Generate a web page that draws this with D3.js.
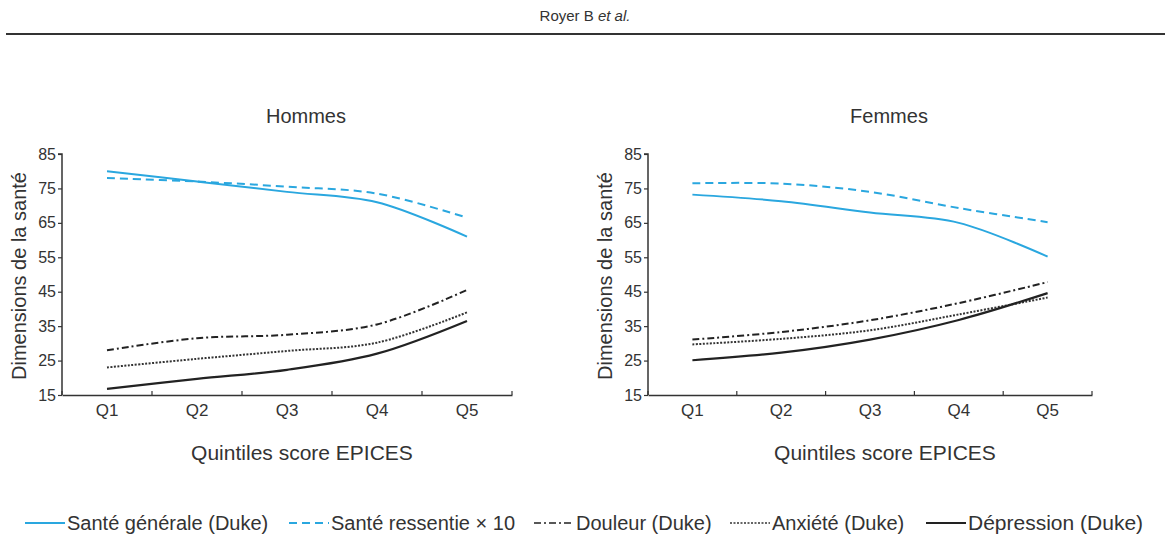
<!DOCTYPE html>
<html><head><meta charset="utf-8">
<script src="https://cdn.jsdelivr.net/npm/d3@7"></script>
<style>
body{margin:0;background:#fff;}
svg text{font-family:"Liberation Sans",Arial,sans-serif !important;fill:#333;}
</style></head>
<body>
<svg id="c" width="1169" height="538"></svg>
<script>
const categories = ["Q1","Q2","Q3","Q4","Q5"];
const yTicks = [15,25,35,45,55,65,75,85];
const seriesNames = ["Santé générale (Duke)","Santé ressentie × 10","Douleur (Duke)","Anxiété (Duke)","Dépression (Duke)"];
const panelTitles = ["Hommes","Femmes"];
// Hommes
const hommesGenerale = [80,77,74,71,61];
const hommesRessentie = [78,77,75.5,73.5,66.5];
const hommesDouleur = [28,31.5,32.5,35.5,45.5];
const hommesAnxiete = [23,25.5,27.8,30.2,39];
const hommesDepression = [16.8,19.7,22.3,27,36.5];
// Femmes
const femmesGenerale = [73.2,71.3,68,65,55.2];
const femmesRessentie = [76.5,76.4,74,69.3,65.2];
const femmesDouleur = [31.1,33.3,36.7,41.7,47.8];
const femmesAnxiete = [29.7,31.3,33.8,38.4,43.3];
const femmesDepression = [25.1,27.3,31.1,36.8,44.6];

const styles = [
  {color:"#2aa7df", dash:null, w:2},
  {color:"#2aa7df", dash:"8,5", w:2},
  {color:"#222", dash:"7,3,2,3", w:2},
  {color:"#333", dash:"2,1.5", w:2},
  {color:"#222", dash:null, w:2.2}
];

const svg = d3.select("#c");

// header
const hdr = svg.append("text").attr("x",585).attr("y",21).attr("text-anchor","middle").style("font-size","15px");
hdr.append("tspan").text("Royer B ");
hdr.append("tspan").style("font-style","italic").text("et al.");
svg.append("line").attr("x1",6).attr("x2",1165).attr("y1",34).attr("y2",34).attr("stroke","#333").attr("stroke-width",2);

const panels = [
  {title:panelTitles[0], x0:62, x1:512, data:[hommesGenerale,hommesRessentie,hommesDouleur,hommesAnxiete,hommesDepression]},
  {title:panelTitles[1], x0:648, x1:1092, data:[femmesGenerale,femmesRessentie,femmesDouleur,femmesAnxiete,femmesDepression]}
];

const yTop = 154, yBot = 395;

panels.forEach(p => {
  const g = svg.append("g");
  const x = d3.scaleBand().domain(categories).range([p.x0,p.x1]);
  const y = d3.scaleLinear().domain([15,85]).range([yBot,yTop]);
  const cx = d => x(d)+x.bandwidth()/2;

  // y axis
  const ya = g.append("g").attr("transform",`translate(${p.x0},0)`)
    .call(d3.axisLeft(y).tickValues(yTicks).tickSize(4).tickPadding(2));
  ya.select(".domain").attr("stroke","#333").attr("stroke-width",1.5).attr("d",`M-4,${yTop}H0V${yBot}`);
  ya.selectAll(".tick line").attr("stroke","#333").attr("stroke-width",1.2);
  ya.selectAll("text").style("font-size","16px").attr("fill","#333");

  // x axis
  const xa = g.append("g").attr("transform",`translate(0,${yBot})`)
    .call(d3.axisBottom(x).tickSize(0).tickPadding(9));
  xa.select(".domain").attr("stroke","#333").attr("stroke-width",1.5);
  xa.selectAll("text").style("font-size","17px").attr("fill","#333");
  const bounds = categories.map(c=>x(c)).concat([p.x1]);
  g.selectAll(".xt").data(bounds).join("line").attr("x1",d=>d).attr("x2",d=>d)
    .attr("y1",yBot).attr("y2",yBot-4).attr("stroke","#333").attr("stroke-width",1.2);

  // title
  g.append("text").attr("x",(p.x0+p.x1)/2+19).attr("y",123).attr("text-anchor","middle").style("font-size","20px").text(p.title);
  // axis titles
  g.append("text").attr("x",(p.x0+p.x1)/2+15).attr("y",460).attr("text-anchor","middle").style("font-size","21px").text("Quintiles score EPICES");
  g.append("text").attr("transform",`translate(${p.x0-36},276) rotate(-90)`).attr("text-anchor","middle").style("font-size","20px").text("Dimensions de la santé");

  const line = d3.line().x((d,i)=>cx(categories[i])).y(d=>y(d)).curve(d3.curveCatmullRom.alpha(0.5));
  p.data.forEach((vals,k)=>{
    const s = styles[k];
    g.append("path").datum(vals).attr("d",line).attr("fill","none")
      .attr("stroke",s.color).attr("stroke-width",s.w).attr("stroke-dasharray",s.dash);
  });
});

// legend
const legX = [25,289,534,730,926];
const lg = svg.append("g");
seriesNames.forEach((n,k)=>{
  const s = styles[k];
  lg.append("line").attr("x1",legX[k]).attr("x2",legX[k]+40).attr("y1",523).attr("y2",523)
    .attr("stroke",s.color).attr("stroke-width",k==2||k==3?1.5:2).attr("stroke-dasharray",s.dash);
  lg.append("text").attr("x",legX[k]+42).attr("y",530).style("font-size",k==4?"21px":"20px").text(n);
});
</script>
</body></html>
